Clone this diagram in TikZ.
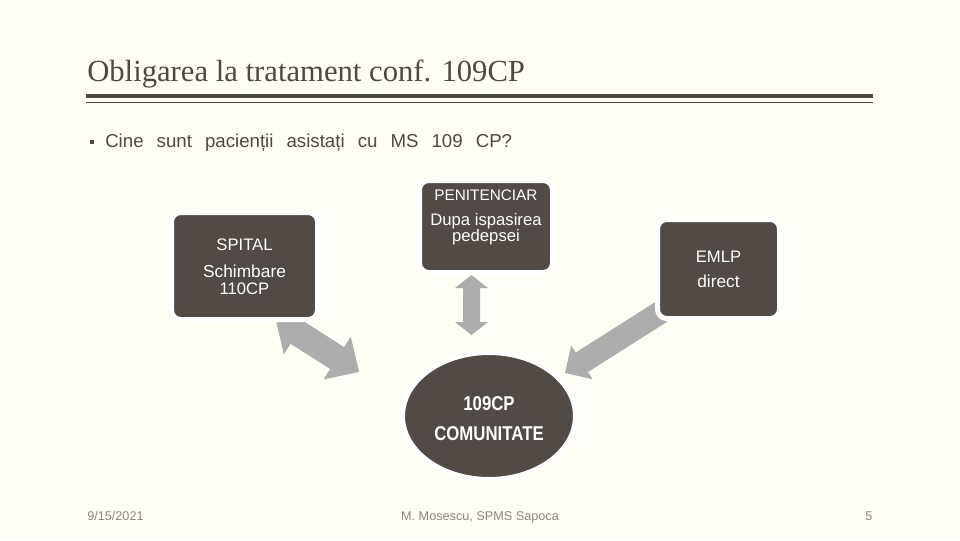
\documentclass[tikz,border=0pt]{standalone}
\usepackage{fontspec}
\usepackage{graphicx}
\setmainfont{Liberation Serif}
\newfontfamily\bodysans{Liberation Sans}
\usetikzlibrary{shapes.geometric}
\definecolor{bgcol}{HTML}{FFFEF5}
\definecolor{boxfill}{HTML}{514A45}
\definecolor{arrowgray}{HTML}{ADADAD}
\definecolor{darktxt}{HTML}{4E4A42}
\definecolor{foottxt}{HTML}{8A877F}
\begin{document}
\begin{tikzpicture}[x=0.75pt,y=-0.75pt,
  box/.style={draw=white, line width=3.75pt, fill=boxfill, rounded corners=7pt, inner sep=0pt, outer sep=0pt},
  ell/.style={ellipse, draw=white, line width=3.75pt, fill=boxfill, inner sep=0pt, outer sep=0pt},
  blk/.style={fill=arrowgray},
  wtxt/.style={text=white, inner sep=0pt, anchor=base},
  foot/.style={text=foottxt, inner sep=0pt, font=\bodysans\fontsize{9.5}{11}\selectfont},
  rule/.style={draw=darktxt}
]
\useasboundingbox (0,0) rectangle (960,540);
\fill[bgcol] (0,0) rectangle (960,540);

% title
\node[anchor=base west, inner sep=0pt, text=darktxt, font=\fontsize{23}{27}\selectfont] (title) at (87,81) {Obligarea la tratament conf. 109CP};
\draw[rule, line width=2.55pt] (86,96) -- (873,96);
\draw[rule, line width=1.2pt] (86,102.5) -- (873,102.5);

% bullet
\node[fill=darktxt, minimum size=3.4pt, inner sep=0pt] (bullet) at (92,142) {};
\node[anchor=base west, inner sep=0pt, text=darktxt, font=\bodysans\fontsize{14}{16}\selectfont] (question) at (105,147.7) {\spaceskip=9.8pt\relax Cine sunt pacienții asistați cu MS 109 CP?};

% block arrows
\coordinate (a1) at (317.3,345.4);
\fill[blk, shift={(a1)}, rotate=-32.5] (-49.45,0) -- (-23.45,-25.5) -- (-23.45,-13) -- (23.45,-13) -- (23.45,-25.5) -- (49.45,0) -- (23.45,25.5) -- (23.45,13) -- (-23.45,13) -- (-23.45,25.5) -- cycle;
\coordinate (a2) at (471.5,305);
\fill[blk, shift={(a2)}, rotate=90] (-30,0) -- (-17,-16.5) -- (-17,-8.5) -- (17,-8.5) -- (17,-16.5) -- (30,0) -- (17,16.5) -- (17,8.5) -- (-17,8.5) -- (-17,16.5) -- cycle;
\coordinate (a3) at (613,342.5);
\fill[blk, shift={(a3)}, rotate=-147.6] (-56.85,-11.5) -- (36.85,-11.5) -- (36.85,-20) -- (56.85,0) -- (36.85,20) -- (36.85,11.5) -- (-56.85,11.5) -- cycle;

% boxes
\node[box, minimum width=109.5pt, minimum height=80.25pt] (spital) at (244.5,266) {};
\node[box, minimum width=99.75pt, minimum height=69pt] (penit) at (486,226.5) {};
\node[box, minimum width=91.5pt, minimum height=74.25pt] (emlp) at (718.5,269) {};
\node[ell, minimum width=129.75pt, minimum height=95.25pt] (comun) at (489,416) {};

% box texts
\node[wtxt, font=\bodysans\fontsize{12.5}{14}\selectfont] (spitalA) at (244.5,250) {SPITAL};
\node[wtxt, font=\bodysans\fontsize{13}{15}\selectfont] (spitalB) at (244.5,277) {Schimbare};
\node[wtxt, font=\bodysans\fontsize{12.5}{14}\selectfont] (spitalC) at (244.5,294) {110CP};
\node[wtxt, font=\bodysans\fontsize{11.5}{13}\selectfont] (penitA) at (486,200.5) {PENITENCIAR};
\node[wtxt, font=\bodysans\fontsize{12.5}{14}\selectfont] (penitB) at (486,225) {Dupa ispasirea};
\node[wtxt, font=\bodysans\fontsize{12.5}{14}\selectfont] (penitC) at (486,241) {pedepsei};
\node[wtxt, font=\bodysans\fontsize{12.5}{14}\selectfont] (emlpA) at (718.5,262) {EMLP};
\node[wtxt, font=\bodysans\fontsize{13}{15}\selectfont] (emlpB) at (718.5,287.3) {direct};
\node[wtxt, font=\bodysans\bfseries\fontsize{15}{17}\selectfont] (comunA) at (489,410) {\scalebox{0.84}[1]{109CP}};
\node[wtxt, font=\bodysans\bfseries\fontsize{15}{17}\selectfont] (comunB) at (489,440) {\scalebox{0.84}[1]{COMUNITATE}};

% footer
\node[foot, anchor=base west] (date) at (87,520.5) {9/15/2021};
\node[foot, anchor=base] (author) at (480,520.5) {M. Mosescu, SPMS Sapoca};
\node[foot, anchor=base] (page) at (869,520.5) {5};
\end{tikzpicture}
\end{document}
